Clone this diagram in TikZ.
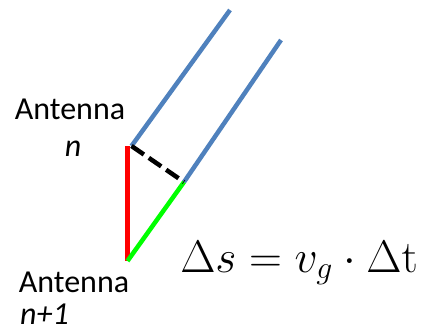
\documentclass[tikz,border=0pt]{standalone}
\usepackage[no-math]{fontspec}
\setmainfont{Carlito}
\definecolor{rayblue}{HTML}{4F81BD}
\definecolor{legred}{HTML}{FF0000}
\definecolor{leggreen}{HTML}{00FF00}
\begin{document}
\begin{tikzpicture}[x=1pt,y=-1pt,
    ray/.style={rayblue,line width=4.5pt},
    leg/.style={line width=4.5pt},
    lbl/.style={anchor=base,inner sep=0pt,font=\fontsize{32}{38}\selectfont}]
    \useasboundingbox (0,0) rectangle (426,330);
    \coordinate (antN) at (127.5,146);
    \coordinate (antM) at (127.5,261);
    \coordinate (rayA) at (131.5,146);
    \coordinate (foot) at (184,182);
    \coordinate (farA) at (230,10);
    \coordinate (farB) at (281,40);
    \draw[ray] (rayA) -- (farA);
    \draw[ray] (foot) -- (farB);
    \draw[leg,legred] (antN) -- (antM);
    \draw[leg,leggreen] (antM) -- (foot);
    \draw[leg,black,dash pattern=on 15pt off 6pt] (rayA) -- (foot);
    \node[lbl] (nameN) at (70,119) {Antenna};
    \node[lbl] (idxN) at (73,156) {\itshape n};
    \node[lbl] (nameM) at (74,292) {Antenna};
    \node[lbl,anchor=base west] (idxM) at (20,324) {\itshape n+1};
    \node[anchor=base,inner sep=0pt,scale=2.2,font=\fontsize{22}{26}\selectfont] (delay) at (299,272) {$\Delta s = v_g \cdot \Delta\mathrm{t}$};
\end{tikzpicture}
\end{document}
